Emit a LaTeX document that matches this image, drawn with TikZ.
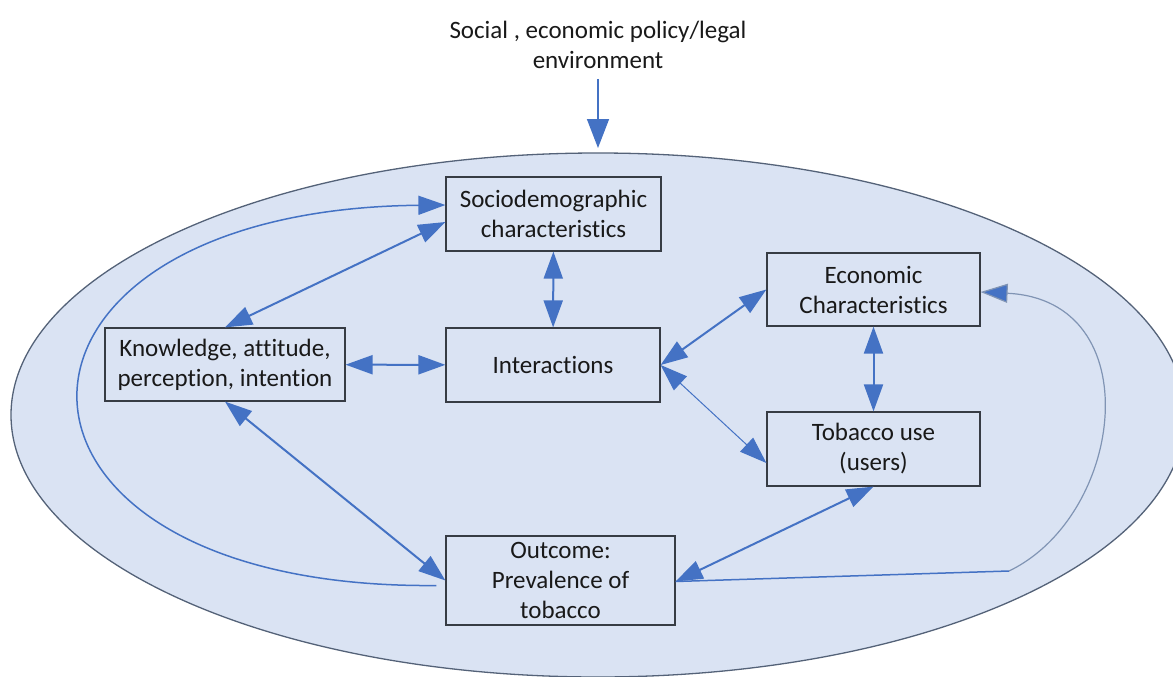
\documentclass[tikz,border=0pt]{standalone}
\usepackage{fontspec}
\setmainfont[Ligatures=NoCommon]{Carlito}
\definecolor{linkblue}{RGB}{68, 114, 196}
\definecolor{fieldfill}{RGB}{218, 227, 243}
\definecolor{fieldline}{RGB}{84, 98, 120}
\definecolor{boxline}{RGB}{55, 60, 68}
\definecolor{textgray}{RGB}{25, 25, 25}
\definecolor{paleblue}{RGB}{128, 148, 180}
\usetikzlibrary{arrows.meta}

\begin{document}
\begin{tikzpicture}[x=1pt, y=-1pt,
    every node/.style={font=\fontsize{25}{30}\selectfont, text=textgray},
    factor/.style={draw=boxline, line width=1.2pt, align=center, inner sep=0pt},
    link/.style={draw=linkblue, line width=2pt,
        {Triangle[length=27pt, width=19pt]}-{Triangle[length=27pt, width=19pt]}},
    thinlink/.style={link, line width=1pt},
    oneway/.style={draw=linkblue, line width=1.5pt, -{Triangle[length=27pt, width=19pt]}}]
        \useasboundingbox (0,0) rectangle (1173,677);

        % Surrounding environment
        \begin{scope}
            \clip (0,0) rectangle (1173,677);
            \draw[fill=fieldfill, draw=fieldline, line width=1.3pt] (598,415) ellipse [x radius=587pt, y radius=262pt];
        \end{scope}

        \node[align=center, inner sep=0pt] (env) at (598,45) {Social , economic policy/legal\\environment};
        \coordinate (field) at (598,148);

        % Nodes
        \node[factor, minimum width=215pt, minimum height=74pt] (socio) at (553.5,214) {Sociodemographic\\characteristics};
        \node[factor, minimum width=240pt, minimum height=73pt] (knowledge) at (225,364.5) {Knowledge, attitude,\\perception, intention};
        \node[factor, minimum width=214pt, minimum height=74pt] (interact) at (553,365) {Interactions};
        \node[factor, minimum width=213pt, minimum height=73pt] (econ) at (873.5,289.5) {Economic\\Characteristics};
        \node[factor, minimum width=213pt, minimum height=74pt] (tobacco) at (873.5,449) {Tobacco use\\(users)};
        \node[factor, minimum width=229pt, minimum height=89pt] (outcome) at (560.5,580.5) {Outcome:\\Prevalence of\\tobacco};
        \coordinate (bend) at (1009,571);

        % Arrows
        \draw[draw=linkblue, line width=1.5pt, -{Triangle[length=29pt, width=22pt]}] ([yshift=-10pt]env.south) -- (field);
        \draw[link] (socio) -- (interact);
        \draw[link] (knowledge.north) -- ([yshift=-8pt]socio.west);
        \draw[link] (knowledge) -- (interact);
        \draw[link] (knowledge.south) -- (outcome.west);
        \draw[link] (interact.east) -- (econ.west);
        \draw[thinlink] (interact.east) -- ([yshift=-14pt]tobacco.west);
        \draw[link] (econ) -- (tobacco);
        \draw[link] (tobacco.south) -- ([yshift=-1pt]outcome.east);
        \draw[oneway] ([xshift=-9pt,yshift=-5pt]outcome.west) .. controls (-40,590) and (-40,210) .. ([yshift=9pt]socio.west);
        \draw[draw=linkblue, line width=1.5pt] ([yshift=-1pt]outcome.east) -- (bend);
        \draw[draw=paleblue, line width=1.2pt, -{Triangle[length=27pt, width=19pt, fill=linkblue]}] (bend) .. controls (1125,515) and (1150,300) .. ([yshift=-2.5pt]econ.east);
\end{tikzpicture}
\end{document}
